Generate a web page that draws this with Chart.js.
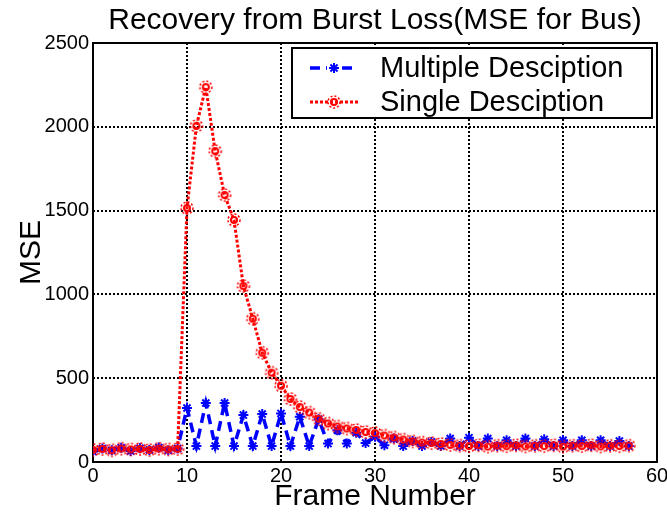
<!DOCTYPE html>
<html>
<head>
<meta charset="utf-8">
<title>Recovery from Burst Loss</title>
<script src="https://cdn.jsdelivr.net/npm/chart.js@4/dist/chart.umd.min.js"></script>
<style>
    body { margin: 0; background: #fff; }
    #wrap { width: 667px; height: 513px; }
</style>
</head>
<body>
<div id="wrap"><canvas id="mse" width="667" height="513"></canvas></div>
<script>
const chartTitle = 'Recovery from Burst Loss(MSE for Bus)';
const xLabel = 'Frame Number';
const yLabel = 'MSE';
const seriesNames = ['Multiple Desciption', 'Single Desciption'];

const frames = [0, 1, 2, 3, 4, 5, 6, 7, 8, 9, 10, 11, 12, 13, 14, 15, 16, 17, 18, 19,
    20, 21, 22, 23, 24, 25, 26, 27, 28, 29, 30, 31, 32, 33, 34, 35, 36, 37, 38, 39,
    40, 41, 42, 43, 44, 45, 46, 47, 48, 49, 50, 51, 52, 53, 54, 55, 56, 57];

const multipleMse = [62, 80, 70, 85, 66, 82, 72, 86, 70, 80, 322, 95, 352, 95, 352, 95, 280, 95, 286, 95,
    290, 95, 270, 95, 255, 110, 190, 110, 175, 113, 150, 100, 140, 95, 125, 95, 120, 95, 140, 95,
    145, 95, 140, 95, 130, 95, 140, 95, 135, 95, 130, 95, 130, 95, 130, 95, 125, 95];

const singleMse = [72, 78, 70, 80, 75, 78, 72, 80, 75, 78, 1515, 2005, 2237, 1855, 1593, 1444, 1050, 855, 652, 533,
    455, 376, 328, 295, 258, 230, 212, 200, 191, 179, 173, 158, 146, 134, 123, 116, 113, 108, 102, 98,
    95, 100, 92, 98, 94, 100, 93, 97, 95, 100, 92, 98, 95, 100, 93, 97, 95, 98];

const xTicks = { min: 0, max: 60, step: 10 };
const yTicks = { min: 0, max: 2500, step: 500 };

const FONT = "'Liberation Sans', Arial, sans-serif";
const BLUE = '#0000ff';
const RED = '#ff0000';

// fuzzy ring marker for the single description series
function makeRingMarker() {
    const c = document.createElement('canvas');
    c.width = 16;
    c.height = 16;
    const g = c.getContext('2d');
    g.strokeStyle = RED;
    g.lineWidth = 1.5;
    g.setLineDash([2, 2]);
    g.beginPath();
    g.arc(8, 8, 6, 0, Math.PI * 2);
    g.stroke();
    g.setLineDash([]);
    g.lineWidth = 2;
    g.beginPath();
    g.arc(8, 8, 3, 0, Math.PI * 2);
    g.stroke();
    return c;
}
const ringMarker = makeRingMarker();

function drawStar(ctx, x, y, r) {
    ctx.save();
    ctx.strokeStyle = BLUE;
    ctx.lineWidth = 2;
    ctx.beginPath();
    ctx.moveTo(x - r, y); ctx.lineTo(x + r, y);
    ctx.moveTo(x, y - r); ctx.lineTo(x, y + r);
    const d = r * 0.707;
    ctx.moveTo(x - d, y - d); ctx.lineTo(x + d, y + d);
    ctx.moveTo(x - d, y + d); ctx.lineTo(x + d, y - d);
    ctx.stroke();
    ctx.restore();
}

// axes box, drawn under the data
const boxPlugin = {
    id: 'axesBox',
    beforeDatasetsDraw(chart) {
        const a = chart.chartArea;
        const ctx = chart.ctx;
        ctx.save();
        ctx.strokeStyle = '#000';
        ctx.lineWidth = 2;
        ctx.strokeRect(a.left, a.top, a.right - a.left, a.bottom - a.top);
        ctx.restore();
    }
};

// legend box in the upper right corner
const legendPlugin = {
    id: 'boxLegend',
    afterDraw(chart) {
        const ctx = chart.ctx;
        const bx = 292, by = 48, bw = 360, bh = 70;
        ctx.save();
        ctx.fillStyle = '#fff';
        ctx.fillRect(bx, by, bw, bh);
        ctx.strokeStyle = '#000';
        ctx.lineWidth = 2;
        ctx.strokeRect(bx, by, bw, bh);

        const rows = [
            { y: 68, color: BLUE, dash: [10, 6], width: 3.5 },
            { y: 102, color: RED, dash: [3, 2], width: 3 }
        ];
        rows.forEach((row, i) => {
            ctx.strokeStyle = row.color;
            ctx.lineWidth = row.width;
            ctx.setLineDash(row.dash);
            ctx.beginPath();
            ctx.moveTo(310, row.y);
            ctx.lineTo(358, row.y);
            ctx.stroke();
            ctx.setLineDash([]);
            if (i === 0) {
                ctx.fillStyle = '#fff';
                ctx.fillRect(327, row.y - 6, 14, 12);
                drawStar(ctx, 334, row.y, 5);
            } else {
                ctx.drawImage(ringMarker, 334 - 8, row.y - 8);
            }
            ctx.fillStyle = '#000';
            ctx.font = '29px ' + FONT;
            ctx.textBaseline = 'middle';
            ctx.fillText(seriesNames[i], 380, row.y + 1);
        });
        ctx.restore();
    }
};

const ctx = document.getElementById('mse').getContext('2d');

new Chart(ctx, {
    type: 'line',
    data: {
        datasets: [{
            label: seriesNames[0],
            data: frames.map((f, i) => ({ x: f, y: multipleMse[i] })),
            borderColor: BLUE,
            borderWidth: 3.5,
            borderDash: [10, 6],
            pointStyle: 'star',
            pointRadius: 5,
            pointBorderWidth: 2,
            pointBorderColor: BLUE,
            pointBackgroundColor: BLUE,
            tension: 0,
            order: 1
        }, {
            label: seriesNames[1],
            data: frames.map((f, i) => ({ x: f, y: singleMse[i] })),
            borderColor: RED,
            borderWidth: 3,
            borderDash: [3, 2],
            pointStyle: ringMarker,
            tension: 0,
            order: 0
        }]
    },
    options: {
        responsive: false,
        animation: false,
        devicePixelRatio: 1,
        layout: { padding: { right: 10 } },
        plugins: {
            legend: { display: false },
            tooltip: { enabled: false },
            title: {
                display: true,
                text: chartTitle,
                fullSize: false,
                color: '#000',
                font: { family: FONT, size: 30, weight: 'normal' },
                padding: { top: 3, bottom: 4 }
            }
        },
        scales: {
            x: {
                type: 'linear',
                min: xTicks.min,
                max: xTicks.max,
                ticks: {
                    stepSize: xTicks.step,
                    color: '#000',
                    padding: 2,
                    font: { family: FONT, size: 20 },
                    callback: v => String(v)
                },
                grid: { color: '#000', lineWidth: 2, drawTicks: false },
                border: { display: false, dash: [2, 2] },
                title: {
                    display: true,
                    text: xLabel,
                    color: '#000',
                    font: { family: FONT, size: 30 },
                    padding: { top: 0, bottom: -2 }
                },
                afterFit(scale) {
                    scale.height = 51;
                    scale.paddingLeft = 0;
                    scale.paddingRight = 0;
                }
            },
            y: {
                min: yTicks.min,
                max: yTicks.max,
                ticks: {
                    stepSize: yTicks.step,
                    color: '#000',
                    padding: 4,
                    font: { family: FONT, size: 20 },
                    callback: v => String(v)
                },
                grid: { color: '#000', lineWidth: 2, drawTicks: false },
                border: { display: false, dash: [2, 2] },
                title: {
                    display: true,
                    text: yLabel,
                    color: '#000',
                    font: { family: FONT, size: 30 },
                    padding: { top: 14, bottom: 0 }
                },
                afterFit(scale) {
                    scale.width = 93;
                    scale.paddingTop = 0;
                    scale.paddingBottom = 0;
                }
            }
        }
    },
    plugins: [boxPlugin, legendPlugin]
});
</script>
</body>
</html>
